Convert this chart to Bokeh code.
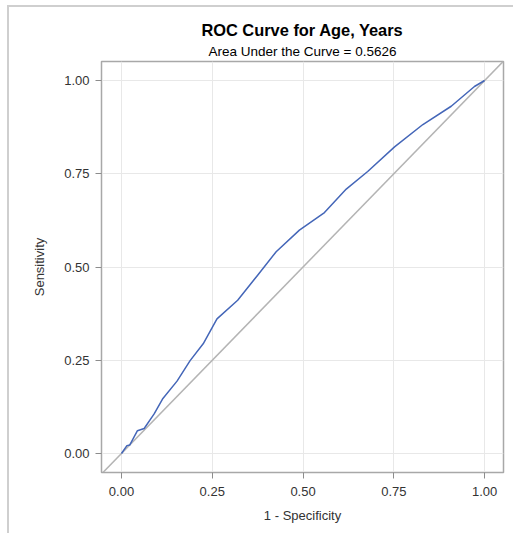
from bokeh.plotting import figure
from bokeh.models import Range1d, NumeralTickFormatter, FixedTicker, Title
from bokeh.embed import file_html
from bokeh.resources import INLINE

fpr = [0.0, 0.015, 0.023, 0.044, 0.0625, 0.090, 0.113, 0.153, 0.189, 0.225, 0.263,
       0.320, 0.375, 0.426, 0.490, 0.559, 0.619, 0.678, 0.752, 0.830, 0.908, 0.972, 1.0]
tpr = [0.0, 0.021, 0.023, 0.061, 0.067, 0.106, 0.146, 0.194, 0.249, 0.294, 0.361,
       0.411, 0.478, 0.541, 0.599, 0.646, 0.709, 0.756, 0.822, 0.882, 0.931, 0.984, 1.0]
ref_x = [-0.06, 1.06]
ref_y = [-0.06, 1.06]
ticks = [0.0, 0.25, 0.5, 0.75, 1.0]

FONT = "Liberation Sans"

p = figure(width=506, height=528, output_backend="svg", toolbar_location=None,
           x_range=Range1d(-0.055, 1.052), y_range=Range1d(-0.051, 1.051),
           min_border_left=92, min_border_right=12, min_border_bottom=63, min_border_top=54)
p.margin = (5, 0, 0, 7)
p.styles = {"border-top": "2px solid #cfcfcf", "border-left": "2px solid #cfcfcf"}

p.title.text = "ROC Curve for Age, Years"
p.title.align = "center"
p.title.text_font = FONT
p.title.text_font_size = "16.4px"
p.title.text_font_style = "bold"
p.title.text_color = "#000000"
p.title.standoff = 0
p.add_layout(Title(text="Area Under the Curve = 0.5626", align="center", text_font=FONT,
                   text_font_size="13.5px", text_font_style="normal", text_color="#000000",
                   standoff=6), "above")

p.line(ref_x, ref_y, line_color="#b4b4b4", line_width=1.5)
p.line(fpr, tpr, line_color="#4466b8", line_width=1.5)

for ax in (p.xaxis[0], p.yaxis[0]):
    ax.ticker = FixedTicker(ticks=ticks)
    ax.formatter = NumeralTickFormatter(format="0.00")
    ax.minor_tick_line_color = None
    ax.major_tick_out = 6
    ax.major_tick_in = 0
    ax.major_tick_line_color = "#8c8c8c"
    ax.axis_line_color = "#a8a8a8"
    ax.major_label_text_font = FONT
    ax.major_label_text_font_size = "13px"
    ax.major_label_text_color = "#333333"
    ax.axis_label_text_font = FONT
    ax.axis_label_text_font_size = "13px"
    ax.axis_label_text_font_style = "normal"
    ax.axis_label_text_color = "#333333"

p.xaxis.axis_label = "1 - Specificity"
p.yaxis.axis_label = "Sensitivity"
p.xaxis.axis_label_standoff = 9
p.yaxis.axis_label_standoff = 14
p.yaxis.major_label_standoff = 6
p.xaxis.major_label_standoff = 8

p.xgrid.ticker = FixedTicker(ticks=ticks)
p.ygrid.ticker = FixedTicker(ticks=ticks)
p.grid.grid_line_color = "#e8e8e8"
p.outline_line_color = "#a8a8a8"
p.outline_line_width = 1.5

open("out.html", "w").write(file_html(p, INLINE))
